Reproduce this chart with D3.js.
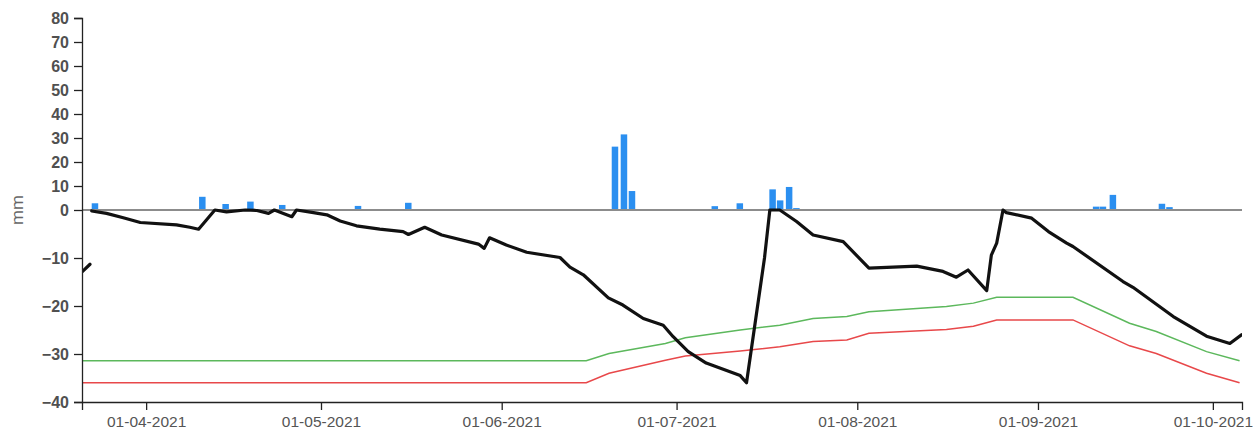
<!DOCTYPE html>
<html>
<head>
<meta charset="utf-8">
<script src="https://cdn.jsdelivr.net/npm/d3@7/dist/d3.min.js"></script>
<style>
  html, body { margin: 0; padding: 0; background: #fff; }
  svg { display: block; font-family: Roboto, "Noto Sans", sans-serif; }
</style>
</head>
<body>
<svg id="chart" width="1254" height="430"></svg>
<script>
// Daily precipitation (mm), timestamped
const rain = [
  ["2021-03-22 16:00", 2.8], ["2021-04-10 02:00", 5.5], ["2021-04-14 02:00", 2.5],
  ["2021-04-18 08:00", 3.5], ["2021-04-23 19:00", 2.1], ["2021-05-06 19:00", 1.7],
  ["2021-05-15 10:00", 3.0], ["2021-06-19 21:00", 26.4], ["2021-06-21 10:00", 31.5],
  ["2021-06-22 19:00", 7.9], ["2021-07-07 00:00", 1.6], ["2021-07-11 07:00", 2.8],
  ["2021-07-16 22:00", 8.6], ["2021-07-18 05:00", 4.0], ["2021-07-19 18:00", 9.6],
  ["2021-07-21 00:00", 0.8], ["2021-07-29 12:00", 0.4], ["2021-08-02 19:00", 0.4],
  ["2021-08-16 05:00", 0.4], ["2021-09-10 10:00", 1.4], ["2021-09-11 14:00", 1.4],
  ["2021-09-13 07:00", 6.3], ["2021-09-21 17:00", 2.6], ["2021-09-23 00:00", 1.2],
  ["2021-10-03 00:00", 0.3]
];

// Soil water balance (mm); null marks a break in the record
const balance = [
  ["2021-03-21 00:00", -12.9], ["2021-03-22 09:00", -11.3], ["2021-03-22 12:00", null],
  ["2021-03-22 16:00", -0.2], ["2021-03-25 05:00", -0.7], ["2021-03-28 02:00", -1.6],
  ["2021-03-31 00:00", -2.6], ["2021-04-06 05:00", -3.1], ["2021-04-08 12:00", -3.6],
  ["2021-04-10 00:00", -4.0], ["2021-04-12 19:00", 0.0], ["2021-04-14 19:00", -0.4],
  ["2021-04-18 00:00", 0.0], ["2021-04-20 00:00", -0.1], ["2021-04-22 00:00", -0.7],
  ["2021-04-23 00:00", 0.0], ["2021-04-26 00:00", -1.4], ["2021-04-26 19:00", 0.0],
  ["2021-04-29 17:00", -0.55], ["2021-05-02 00:00", -1.0], ["2021-05-04 07:00", -2.3],
  ["2021-05-07 02:00", -3.3], ["2021-05-11 02:00", -4.0], ["2021-05-15 02:00", -4.5],
  ["2021-05-16 00:00", -5.1], ["2021-05-18 19:00", -3.6], ["2021-05-21 17:00", -5.2],
  ["2021-05-28 00:00", -7.1], ["2021-05-29 00:00", -8.0], ["2021-05-29 22:00", -5.8],
  ["2021-06-01 19:00", -7.3], ["2021-06-05 07:00", -8.8], ["2021-06-11 00:00", -9.9],
  ["2021-06-12 17:00", -11.9], ["2021-06-15 00:00", -13.5], ["2021-06-19 07:00", -18.3],
  ["2021-06-21 19:00", -19.8], ["2021-06-25 07:00", -22.6], ["2021-06-28 17:00", -24.0],
  ["2021-06-30 10:00", -26.4], ["2021-07-03 00:00", -29.5], ["2021-07-06 02:00", -31.9],
  ["2021-07-11 22:00", -34.5], ["2021-07-13 00:00", -36.0], ["2021-07-16 02:00", -10.0],
  ["2021-07-17 00:00", 0.0], ["2021-07-18 17:00", 0.0], ["2021-07-21 14:00", -2.4],
  ["2021-07-24 10:00", -5.2], ["2021-07-29 14:00", -6.6], ["2021-08-03 00:00", -12.1],
  ["2021-08-11 05:00", -11.7], ["2021-08-15 17:00", -12.8], ["2021-08-18 00:00", -14.0],
  ["2021-08-20 00:00", -12.5], ["2021-08-23 05:00", -16.8], ["2021-08-24 00:00", -9.4],
  ["2021-08-24 22:00", -6.9], ["2021-08-26 00:00", 0.0], ["2021-08-26 14:00", -0.55],
  ["2021-08-30 22:00", -1.7], ["2021-09-02 19:00", -4.5], ["2021-09-05 22:00", -6.9],
  ["2021-09-07 00:00", -7.6], ["2021-09-15 14:00", -14.9], ["2021-09-17 07:00", -16.1],
  ["2021-09-24 05:00", -22.2], ["2021-09-29 22:00", -26.3], ["2021-10-03 22:00", -27.8],
  ["2021-10-05 22:00", -26.0]
];

// Readily available water threshold (mm)
const thresholdGreen = [
  ["2021-03-21 00:00", -31.4], ["2021-06-15 12:00", -31.4], ["2021-06-19 10:00", -29.9],
  ["2021-06-29 02:00", -27.8], ["2021-07-02 12:00", -26.6], ["2021-07-11 22:00", -25.0],
  ["2021-07-18 17:00", -24.0], ["2021-07-24 10:00", -22.6], ["2021-07-30 05:00", -22.2],
  ["2021-08-03 00:00", -21.2], ["2021-08-16 07:00", -20.1], ["2021-08-20 22:00", -19.4],
  ["2021-08-24 22:00", -18.2], ["2021-09-07 00:00", -18.2], ["2021-09-16 17:00", -23.6],
  ["2021-09-21 07:00", -25.3], ["2021-09-29 22:00", -29.5], ["2021-10-05 14:00", -31.4]
];

// Critical water threshold (mm)
const thresholdRed = [
  ["2021-03-21 00:00", -36.0], ["2021-06-15 12:00", -36.0], ["2021-06-19 10:00", -34.0],
  ["2021-06-29 02:00", -31.3], ["2021-07-02 12:00", -30.4], ["2021-07-11 22:00", -29.4],
  ["2021-07-18 17:00", -28.5], ["2021-07-24 10:00", -27.4], ["2021-07-30 05:00", -27.1],
  ["2021-08-03 00:00", -25.7], ["2021-08-16 07:00", -24.9], ["2021-08-20 22:00", -24.2],
  ["2021-08-24 22:00", -22.9], ["2021-09-07 00:00", -22.9], ["2021-09-16 17:00", -28.3],
  ["2021-09-21 07:00", -29.9], ["2021-09-29 22:00", -34.0], ["2021-10-05 14:00", -36.0]
];

const yTicks = [-40, -30, -20, -10, 0, 10, 20, 30, 40, 50, 60, 70, 80];
const dateStart = "2021-03-21 00:00";
const dateEnd = "2021-10-06 00:00";
const yLabel = "mm";

const parse = d3.timeParse("%Y-%m-%d %H:%M");
const svg = d3.select("#chart");

const plotLeft = 82, plotRight = 1242, plotTop = 18, plotBottom = 402, zeroY = 210;

const x = d3.scaleTime()
  .domain([parse(dateStart), parse(dateEnd)])
  .range([plotLeft, plotRight]);

// Negative values get twice the vertical room of positive ones
const y = d3.scaleLinear()
  .domain([-40, 0, 80])
  .range([plotBottom, zeroY, plotTop]);

svg.append("defs").append("clipPath").attr("id", "plot")
  .append("rect").attr("x", plotLeft).attr("y", plotTop - 2)
  .attr("width", plotRight - plotLeft).attr("height", plotBottom - plotTop + 2);

const plot = svg.append("g").attr("clip-path", "url(#plot)");

// Precipitation bars
const barW = 6.5;
plot.append("g").selectAll("rect").data(rain).join("rect")
  .attr("x", d => x(parse(d[0])))
  .attr("y", d => y(d[1]))
  .attr("width", barW)
  .attr("height", d => y(0) - y(d[1]))
  .attr("fill", "#2b8ff0");

// Zero reference line
plot.append("line")
  .attr("x1", plotLeft).attr("x2", plotRight)
  .attr("y1", y(0)).attr("y2", y(0))
  .attr("stroke", "#8c8c8c").attr("stroke-width", 2);

const line = d3.line()
  .defined(d => d[1] !== null)
  .x(d => x(parse(d[0])))
  .y(d => y(d[1]));

plot.append("path").datum(thresholdGreen)
  .attr("d", line).attr("fill", "none")
  .attr("stroke", "#5cb85c").attr("stroke-width", 1.5);

plot.append("path").datum(thresholdRed)
  .attr("d", line).attr("fill", "none")
  .attr("stroke", "#e8484a").attr("stroke-width", 1.5);

plot.append("path").datum(balance)
  .attr("d", line).attr("fill", "none")
  .attr("stroke", "#111").attr("stroke-width", 3.2)
  .attr("stroke-linejoin", "round").attr("stroke-linecap", "round");

// Axes
const yAxis = svg.append("g")
  .attr("transform", `translate(${plotLeft},0)`)
  .call(d3.axisLeft(y).tickValues(yTicks).tickSize(8).tickPadding(5).tickFormat(d3.format("d")));
yAxis.selectAll("text")
  .attr("fill", "#505050").style("font-size", "16px").style("font-weight", "bold");
yAxis.selectAll("line, path").attr("stroke", "#222").attr("stroke-width", 1.3);

const xAxis = svg.append("g")
  .attr("transform", `translate(0,${plotBottom})`)
  .call(d3.axisBottom(x).ticks(d3.timeMonth.every(1)).tickSize(8).tickPadding(6)
    .tickFormat(d3.timeFormat("%d-%m-%Y")));
xAxis.selectAll("text")
  .attr("fill", "#555").style("font-size", "15.5px");
xAxis.selectAll("line, path").attr("stroke", "#222").attr("stroke-width", 1.3);

svg.append("text")
  .attr("transform", `translate(23,${zeroY}) rotate(-90)`)
  .attr("text-anchor", "middle")
  .attr("fill", "#666")
  .style("font-size", "17px")
  .text(yLabel);
</script>
</body>
</html>
